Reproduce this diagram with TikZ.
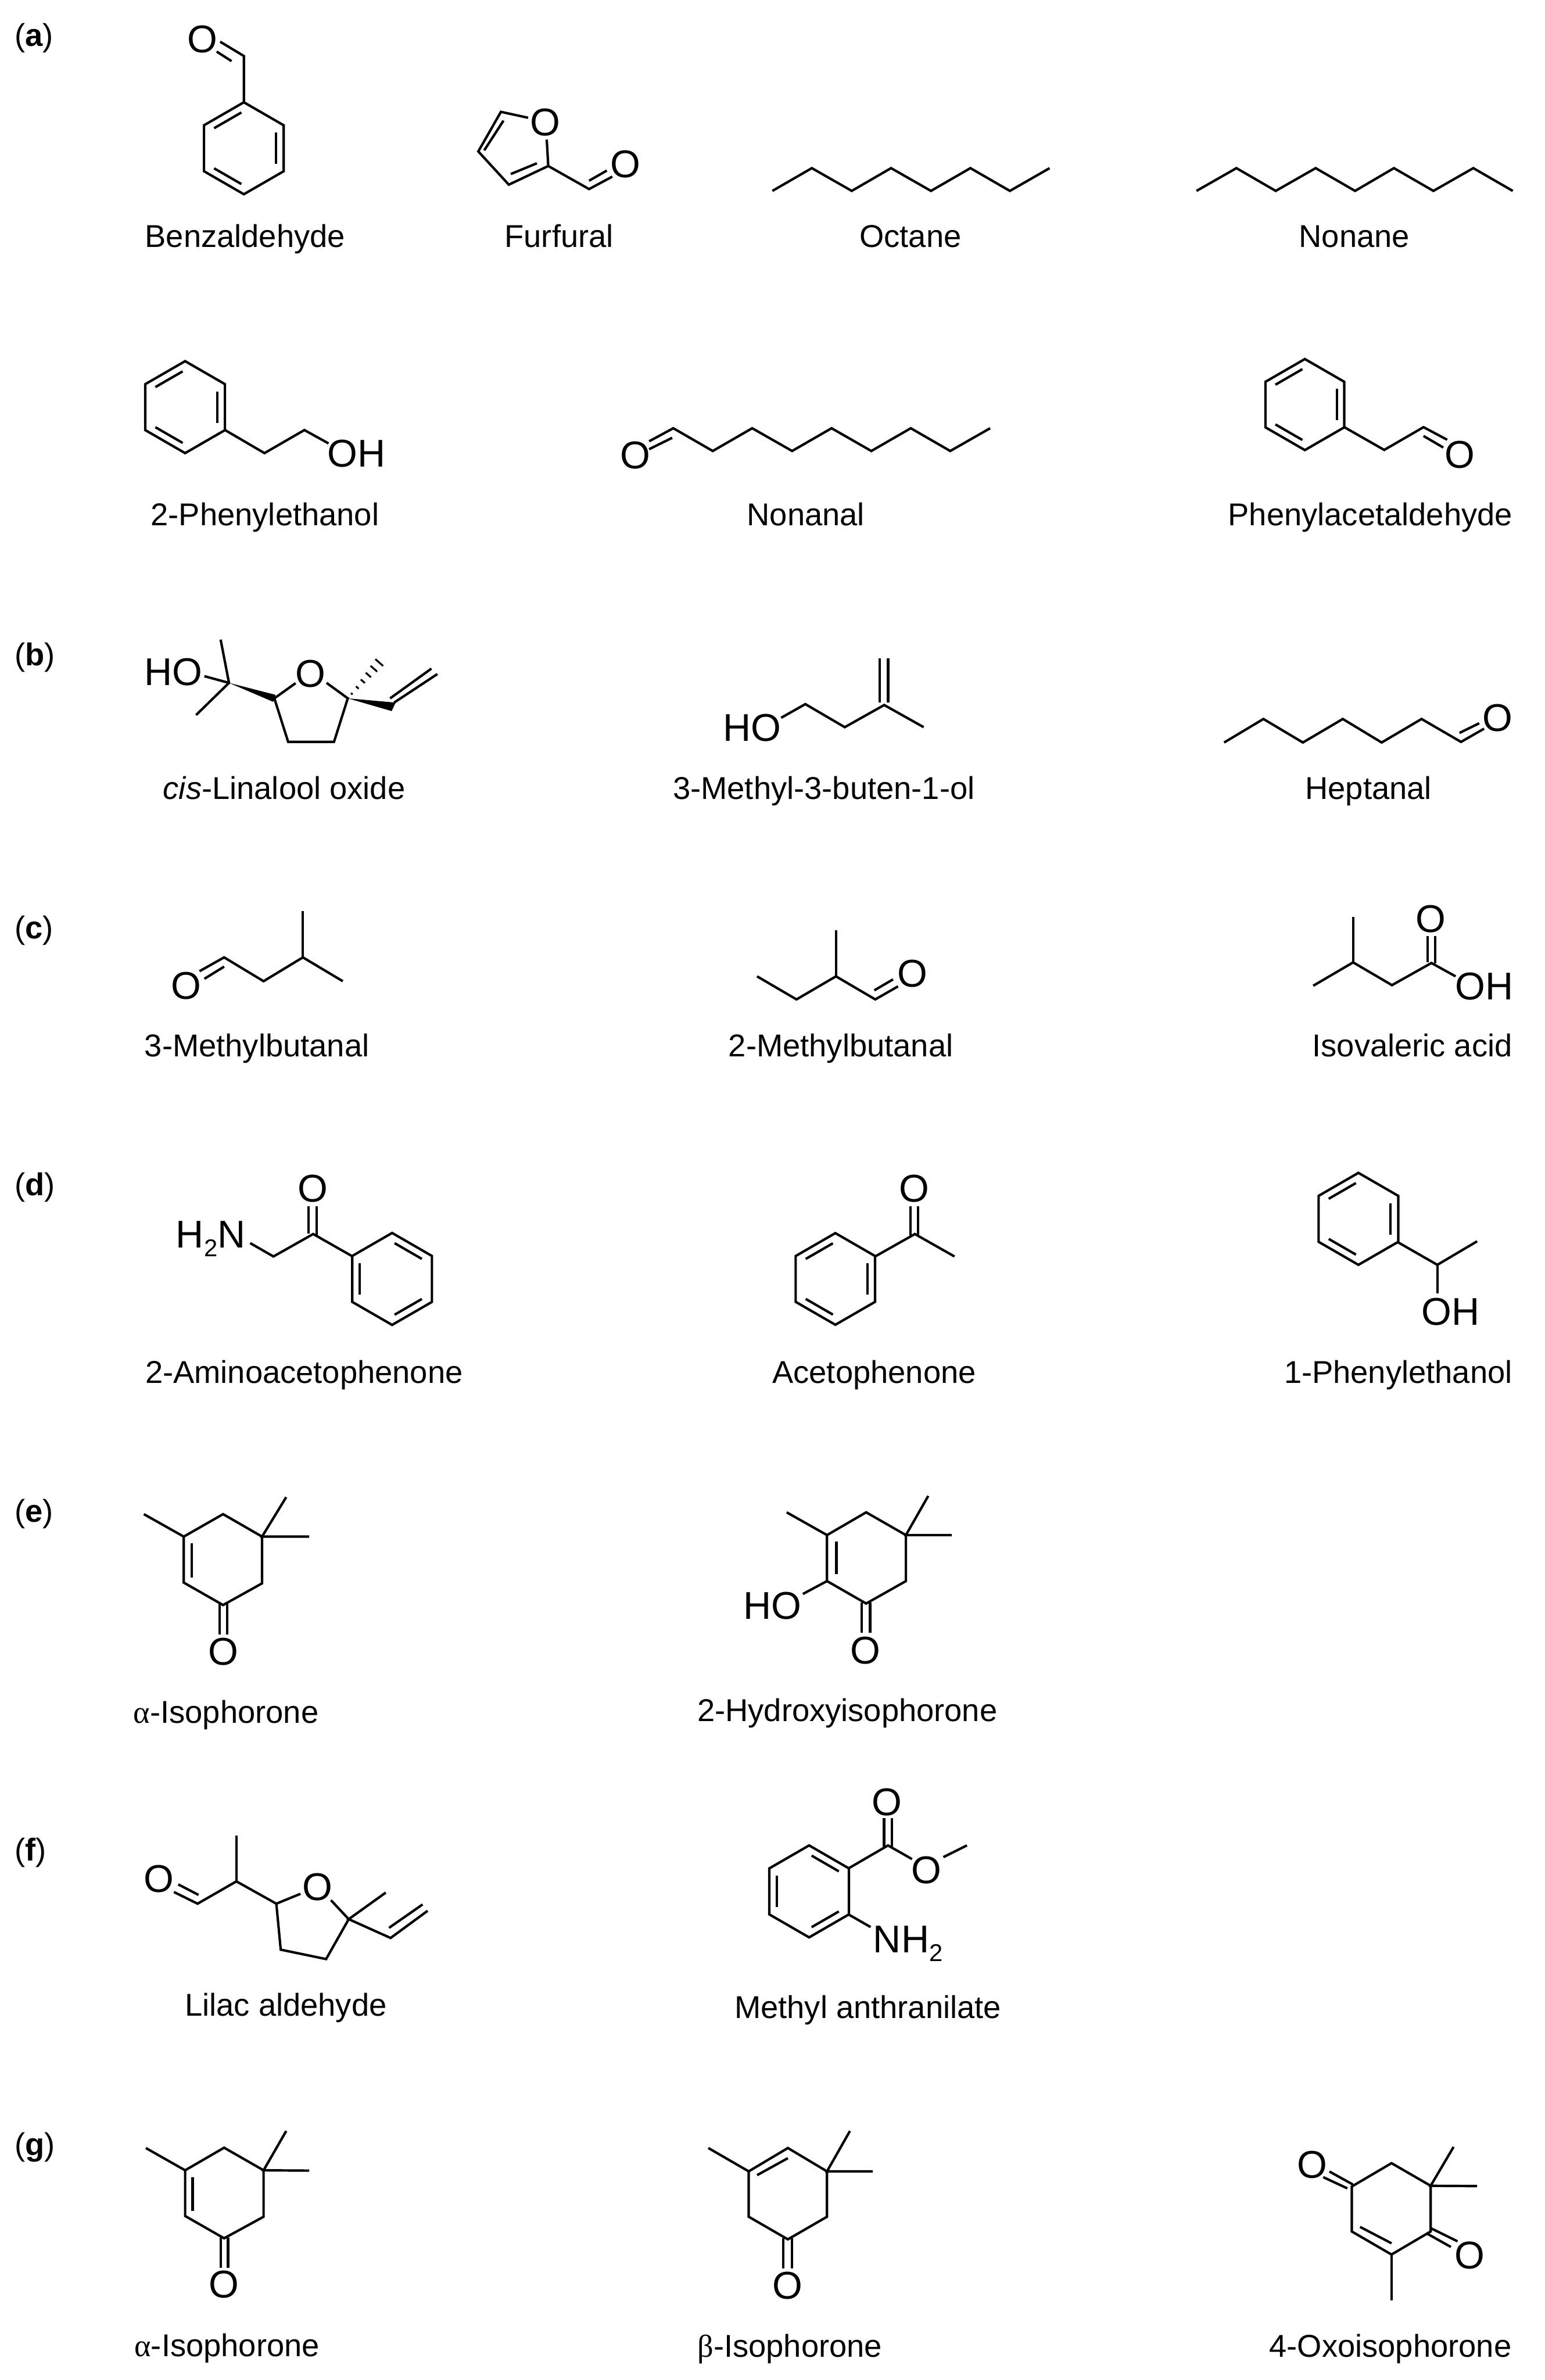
\documentclass[tikz,border=0pt]{standalone}
\usepackage{fontspec}
\setmainfont{Liberation Sans}
\newfontfamily\greekserif{Liberation Serif}

\tikzset{
    bond/.style={line width=1.6pt},
    atom/.style={inner sep=0pt, outer sep=0pt, font=\fontsize{25.5}{27}\selectfont},
    caption/.style={inner sep=0pt, anchor=base, font=\fontsize{20.8}{24}\selectfont},
    panel/.style={inner sep=0pt, anchor=base west, font=\fontsize{20.8}{24}\selectfont},
}
\newcommand{\subtwo}{\raisebox{-5.8pt}{\fontsize{16}{16}\selectfont 2}}
% ring centre x, y, radius, edges with an inner line
\newcommand{\benzring}[4]{
    \draw[bond, shift={(#1,#2)}] (30:#3) -- (90:#3) -- (150:#3) -- (210:#3) -- (270:#3) -- (330:#3) -- cycle;
    \foreach \ang in {#4} {
        \draw[bond, shift={(#1,#2)}] (\ang+4:#3*0.78) -- (\ang+56:#3*0.78);
    }
}

\begin{document}
\begin{tikzpicture}[x=1pt, y=-1pt]
    \useasboundingbox (0,0) rectangle (1018,1568.4);

    %panel letters
    \foreach \name/\lab/\ypos in {
        pa/a/30.4, pb/b/438.6, pc/c/618.5, pd/d/787.9, pe/e/1002.9, pf/f/1226.3, pg/g/1420.2
    } {
        \node[panel] (\name) at (9.5,\ypos) {(\textbf{\lab})};
    }

    %captions
    \foreach \name/\xpos/\ypos/\lab in {
        cBenz/161.5/163.1/Benzaldehyde,
        cFurf/368.4/163.1/Furfural,
        cOct/600/163.1/Octane,
        cNon/892.5/163.1/Nonane,
        cPhEt/174.6/346.3/2-Phenylethanol,
        cNonal/531/346.3/Nonanal,
        cPhAc/903/346.3/Phenylacetaldehyde,
        cLin/187.3/526.7/\textit{cis}-Linalool oxide,
        cMbo/542.9/526.7/3-Methyl-3-buten-1-ol,
        cHept/901.8/526.7/Heptanal,
        cMb3/169.3/696.5/3-Methylbutanal,
        cMb2/554.1/696.5/2-Methylbutanal,
        cIso/930.7/696.5/Isovaleric acid,
        cAmino/200.4/911.4/2-Aminoacetophenone,
        cAceto/576.1/911.4/Acetophenone,
        cPhE1/921.4/911.4/1-Phenylethanol,
        cAlphaE/149/1135.6/{{\greekserif α}-Isophorone},
        cHydr/558.4/1134.4/2-Hydroxyisophorone,
        cLilac/188.4/1328.6/Lilac aldehyde,
        cAnth/571.9/1330.1/Methyl anthranilate,
        cAlphaG/149.6/1552.9/{{\greekserif α}-Isophorone},
        cBeta/520.5/1553.4/{{\greekserif β}-Isophorone},
        cOxo/916.3/1553.4/4-Oxoisophorone
    } {
        \node[caption] (\name) at (\xpos,\ypos) {\lab};
    }

    %atoms
    \foreach \name/\xpos/\ypos/\lab in {
        oBenz/133.4/25.8/O, oFurA/359.3/80.6/O, oFurB/412.2/108.3/O,
        ohPhEt/235/299/OH, oNonal/418.7/300/O, oPhAc/962.1/299.5/O,
        hoLin/114.3/443/HO, oLin/204.8/444/O, hoMbo/495.8/479.6/HO, oHept/986.8/473/O,
        oMb3/122.7/649.6/O, oMb2/601.2/641.6/O, oIso/943/605.5/O, ohIso/978/650/OH,
        oAmino/206.1/783.4/O, oAceto/602.5/783.4/O, ohPhE1/956/864.3/OH,
        oAlphaE/147/1088.5/O, hoHydr/509.2/1058/HO, oHydr/570.4/1087.8/O,
        oLilA/104.8/1238.3/O, oLilB/209.4/1243.5/O,
        oAnthA/584.4/1187.8/O, oAnthB/610.6/1232.6/O,
        oAlphaG/147.4/1505.6/O, oBeta/518.8/1506.3/O,
        oOxoA/864.6/1426.4/O, oOxoB/968.6/1486.4/O
    } {
        \node[atom] (\name) at (\xpos,\ypos) {\lab};
    }
    \node[atom, anchor=base west] (nhAmino) at (116,822.2) {H\subtwo N};
    \node[atom, anchor=base west] (nhAnth) at (575.5,1286.6) {NH\subtwo};

    %benzaldehyde
    \benzring{160.7}{97.7}{30.3}{330,90,210}
    \draw[bond] (160.7,67.5) -- (160.7,36.9) -- (145.1,27.5);
    \draw[bond] (152.6,40.3) -- (142.8,34);

    %furfural
    \draw[bond] (360.3,92) -- (361.3,109.4) -- (335.3,121.7) -- (315.2,99.8) -- (330.1,73.7) -- (348,77.6);
    \draw[bond] (336.6,114.7) -- (353.8,107.6);
    \draw[bond] (319.1,99.1) -- (331.8,79.5);
    \draw[bond] (361.3,109.4) -- (388.2,124.6) -- (403.5,116.4);
    \draw[bond] (388.2,119.1) -- (399.9,112.4);

    %octane, nonane
    \draw[bond] (509,125.8) -- (535,110.8) -- (561.3,125.8) -- (587.2,110.8) -- (613.5,125.8) -- (639.5,110.8) -- (665.5,125.8) -- (691.7,110.8);
    \draw[bond] (788.5,125.8) -- (814.8,110.8) -- (840.7,125.8) -- (867,110.8) -- (893,125.8) -- (918.6,110.8) -- (944.6,125.8) -- (970.9,110.8) -- (996.9,125.8);

    %2-phenylethanol
    \benzring{122}{268.3}{30.3}{330,90,210}
    \draw[bond] (148.3,283.4) -- (174.3,298.6) -- (200.6,283.4) -- (216.5,292.2);

    %nonanal
    \draw[bond] (427.8,290.8) -- (443.7,282.2) -- (469.7,297.2) -- (495.7,282.2) -- (522,297.2) -- (548,282.2) -- (574.2,297.2) -- (600.2,282.2) -- (626.2,297.2) -- (652.5,282.2);
    \draw[bond] (427.8,296) -- (443,288.5);

    %phenylacetaldehyde
    \benzring{859.9}{266.6}{30}{330,90,210}
    \draw[bond] (885.9,281.5) -- (912.2,296.5) -- (938.1,281.5) -- (953.7,289.8);
    \draw[bond] (938.1,287.3) -- (951.1,294.9);

    %cis-linalool oxide
    \draw[bond] (134.7,445.6) -- (150.9,450);
    \draw[bond] (145.4,421.5) -- (150.9,450) -- (129.2,471.2);
    \fill (150.9,450) -- (181.6,457.9) -- (180,462.5) -- cycle;
    \draw[bond] (194.8,450.2) -- (180.8,460.2) -- (189.9,488.9) -- (220.1,488.9) -- (229.2,460.2) -- (215.2,450);
    \fill (229.2,460.2) -- (260.7,463) -- (258.1,468.6) -- cycle;
    \foreach \r/\w in {4/0.7, 9.5/1.2, 15/1.8, 20.5/2.3, 26/2.9, 31.4/3.4} {
        \draw[line width=1.2pt, shift={(229.2,460.2)}] (-48.7:\r) ++(41.3:\w) -- ++(41.3:-2*\w);
    }
    \draw[bond] (259.7,463) -- (288.2,444.2);
    \draw[bond] (257.1,460.2) -- (284.3,440.6);

    %3-methyl-3-buten-1-ol
    \draw[bond] (514.8,473) -- (530.7,464) -- (556.7,479.2) -- (582.7,464.6) -- (608.7,479.2);
    \draw[bond] (579.8,433.9) -- (579.8,463);
    \draw[bond] (585.3,433.9) -- (585.3,463);

    %heptanal
    \draw[bond] (806.7,489.3) -- (832.6,473.8) -- (858.6,489.3) -- (884.9,473.8) -- (910.5,489.3) -- (936.8,473.8) -- (962.8,488.9) -- (978,480.2);
    \draw[bond] (961.8,483) -- (974.8,476.6);

    %3-methylbutanal
    \draw[bond] (131.5,640) -- (147.7,630.9) -- (173.7,646.6) -- (199.6,630.9) -- (225.9,646.6);
    \draw[bond] (199.6,600.3) -- (199.6,630.9);
    \draw[bond] (134.7,645) -- (147.7,637);

    %2-methylbutanal
    \draw[bond] (498.9,643.4) -- (524.9,658.6) -- (550.9,643.4) -- (576.8,658.6) -- (591.8,650);
    \draw[bond] (550.9,612.9) -- (550.9,643.4);
    \draw[bond] (576.2,652.6) -- (588.5,645.4);

    %isovaleric acid
    \draw[bond] (865.4,649.6) -- (891.7,634.2) -- (917.3,649.2) -- (943.3,634.6) -- (959.2,643.4);
    \draw[bond] (891.7,604.3) -- (891.7,634.2);
    \draw[bond] (940.7,616.9) -- (940.7,634);
    \draw[bond] (945.9,616.9) -- (945.9,635);

    %2-aminoacetophenone
    \benzring{258.4}{842.8}{30.3}{30,150,270}
    \draw[bond] (164.9,819.2) -- (180.2,828) -- (206.4,813.2) -- (232.4,828);
    \draw[bond] (203.2,794.9) -- (203.2,813);
    \draw[bond] (208.7,794.9) -- (208.7,814);

    %acetophenone
    \benzring{550.5}{842.8}{30.2}{330,90,210}
    \draw[bond] (576.7,828) -- (602.9,813.2) -- (629,828);
    \draw[bond] (599.9,794.9) -- (599.9,814);
    \draw[bond] (605.1,794.9) -- (605.1,814);

    %1-phenylethanol
    \benzring{895.2}{803.2}{30.3}{330,90,210}
    \draw[bond] (921,818.5) -- (947.2,833.5) -- (973.4,818);
    \draw[bond] (947.2,833.5) -- (947.2,852.3);

    %alpha-isophorone (e)
    \draw[bond] (121.1,1012.6) -- (147,997.8) -- (172.7,1012.6) -- (172.7,1043.4) -- (147,1057.7) -- (121.1,1042.9) -- cycle;
    \draw[bond] (94.8,997.8) -- (121.1,1012.6);
    \draw[bond] (188.6,986.6) -- (172.7,1012.6) -- (203.8,1012.6);
    \draw[bond] (126.3,1017.1) -- (126.3,1039.7);
    \draw[bond] (144.8,1057) -- (144.8,1077.2);
    \draw[bond] (149.6,1057) -- (149.6,1077.2);

    %2-hydroxyisophorone
    \draw[bond] (545,1011.6) -- (570.8,996.6) -- (597,1011.6) -- (597,1041.9) -- (570.8,1056.7) -- (545,1041.9) -- cycle;
    \draw[bond] (518.4,996.6) -- (545,1011.6);
    \draw[bond] (611.7,985.8) -- (597,1011.6) -- (627.2,1011.6);
    \draw[bond] (551.2,1015.9) -- (551.2,1037.2);
    \draw[bond] (529.1,1050.4) -- (545,1041.9);
    \draw[bond] (567.8,1056) -- (567.8,1076);
    \draw[bond] (573.4,1056) -- (573.4,1076);

    %lilac aldehyde
    \draw[bond] (114.6,1246.8) -- (130.2,1254.5) -- (155.8,1239.8) -- (182.1,1254.5) -- (198,1248);
    \draw[bond] (117.5,1241.8) -- (130.8,1248.7);
    \draw[bond] (155.8,1209.7) -- (155.8,1239.8);
    \draw[bond] (182.1,1254.5) -- (185,1284.8) -- (214.9,1291) -- (229.8,1264.7) -- (218.1,1252.2);
    \draw[bond] (254.2,1247.2) -- (229.8,1264.7) -- (257.4,1277.1) -- (281.8,1259.2);
    \draw[bond] (256.4,1270.4) -- (278.5,1255);

    %methyl anthranilate
    \benzring{533.2}{1246.4}{30.3}{30,150,270}
    \draw[bond] (559.4,1231.1) -- (585.2,1216.1) -- (601,1225.1);
    \draw[bond] (582.6,1198.2) -- (582.6,1217);
    \draw[bond] (587.8,1198.2) -- (587.8,1217);
    \draw[bond] (621.7,1223.8) -- (637.2,1216.1);
    \draw[bond] (559.4,1261.7) -- (573.7,1269.9);

    %alpha-isophorone (g)
    \draw[bond] (122,1430.2) -- (147.7,1415.3) -- (173.7,1430.2) -- (173.7,1460.8) -- (147.7,1475) -- (122,1460.3) -- cycle;
    \draw[bond] (96.1,1415.5) -- (122,1430.2);
    \draw[bond] (188.6,1404.3) -- (173.7,1430.2) -- (203.8,1430.4);
    \draw[bond] (126.9,1434.7) -- (126.9,1457);
    \draw[bond] (145.4,1474.5) -- (145.4,1494.4);
    \draw[bond] (150.3,1474.5) -- (150.3,1494.4);

    %beta-isophorone
    \draw[bond] (493.4,1430.9) -- (519.2,1415.5) -- (545,1430.9) -- (545,1460.8) -- (519.2,1475.7) -- (493.4,1460.8) -- cycle;
    \draw[bond] (466.8,1415.5) -- (493.4,1430.9);
    \draw[bond] (560.1,1404.3) -- (545,1430.9) -- (575.2,1430.9);
    \draw[bond] (498.9,1433.4) -- (519.2,1422.2);
    \draw[bond] (516.2,1475) -- (516.2,1494.9);
    \draw[bond] (521.8,1475) -- (521.8,1494.9);

    %4-oxoisophorone
    \draw[bond] (890.8,1440.9) -- (917,1425.5) -- (942.8,1440.4) -- (942.8,1470.5) -- (917,1485.7) -- (890.8,1470.5) -- cycle;
    \draw[bond] (957.9,1414.8) -- (942.8,1440.4) -- (973.4,1440.6);
    \draw[bond] (917,1485.7) -- (917,1516.1);
    \draw[bond] (896.3,1467.5) -- (917,1478.3);
    \draw[bond] (891.6,1439.6) -- (876.1,1431);
    \draw[bond] (887.9,1442.1) -- (872,1434.7);
    \draw[bond] (942.8,1468.3) -- (960.5,1477);
    \draw[bond] (940.6,1472) -- (956.1,1480.7);
\end{tikzpicture}
\end{document}
